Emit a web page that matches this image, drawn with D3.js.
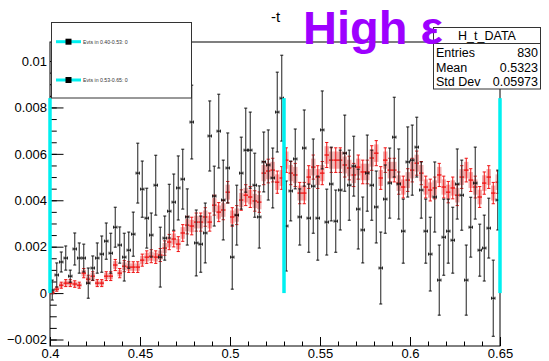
<!DOCTYPE html>
<html><head><meta charset="utf-8">
<script src="https://cdn.jsdelivr.net/npm/d3@7"></script>
<style>
html,body{margin:0;padding:0;background:#fff;}
svg{display:block;font-family:"Liberation Sans",Arial,Helvetica,sans-serif;}
</style>
</head><body>
<svg id="c" width="549" height="361"></svg>
<script>
// ---- data ----
const xRange = [0.4, 0.65];
const nBins = 100;
const dataVals = [
0.00013,0.00078,0.00134,0.00151,0.00073,0.0019,0.00151,0.00151,0.00043,0.00108,
0.00151,0.00168,0.00224,0.00172,0.00284,0.00207,0.00155,0.00185,0.00254,0.00517,
0.00448,0.00323,0.0025,0.00465,0.00155,0.00237,0.00353,0.00392,0.00453,0.00491,
0.00328,0.00737,0.00216,0.00211,0.00259,0.00677,0.00418,0.00698,0.00401,0.00539,
0.00155,0.00336,0.00517,0.00616,0.00616,0.00465,0.00328,0.00565,0.00552,0.00496,
0.0078,0.0084,0.00289,0.0044,0.00578,0.00328,0.00625,0.00323,0.00461,0.00323,
0.00703,0.00306,0.0047,0.0031,0.00444,0.00603,0.00465,0.00547,0.00362,0.00272,
0.00517,0.00465,0.00371,0.00108,0.00405,0.00474,0.00672,0.0047,0.00267,0.00565,
0.00573,0.00629,0.00444,0.00267,0.00168,0.00414,0.00056,0.00241,0.00267,0.00228,
0.0047,0.00422,0.00056,0.00284,0.00474,0.00185,0.00194,0.0028,-0.00022,0.00401];
const dataErr = [
0.00043,0.00052,0.00043,0.00052,0.00026,0.00069,0.00065,0.0006,0.00065,0.00052,
0.00065,0.00078,0.00078,0.00086,0.00086,0.00078,0.00103,0.00078,0.00095,0.00129,
0.00121,0.00129,0.00095,0.00129,0.00129,0.00095,0.00116,0.00121,0.00138,0.00129,
0.00121,0.00159,0.00142,0.00121,0.00129,0.00151,0.00129,0.00159,0.00172,0.00151,
0.00138,0.00129,0.00155,0.00181,0.00164,0.00138,0.00134,0.00129,0.00151,0.00129,
0.00172,0.00185,0.00194,0.00129,0.00129,0.00121,0.00164,0.00147,0.00203,0.00181,
0.00168,0.00142,0.00159,0.00134,0.00172,0.00164,0.00151,0.00129,0.00172,0.00142,
0.00164,0.00151,0.00155,0.00155,0.00147,0.00151,0.00172,0.00151,0.00138,0.00151,
0.00151,0.00129,0.00121,0.00138,0.00159,0.00151,0.00151,0.00164,0.00138,0.00142,
0.00151,0.00151,0.00151,0.00129,0.00155,0.00112,0.00142,0.00129,0.00164,0.00129];
const mcVals = [
0.00002,0.00017,0.00034,0.00043,0.00043,0.00039,0.00034,0.00086,0.0006,0.00073,
0.00043,0.00043,0.00073,0.00073,0.00121,0.00086,0.00116,0.00112,0.00112,0.00112,
0.00142,0.00155,0.00159,0.00155,0.00164,0.00194,0.0022,0.00233,0.00211,0.00259,
0.00293,0.00289,0.00306,0.00306,0.00328,0.00306,0.00379,0.00349,0.00358,0.00435,
0.00328,0.00336,0.00401,0.00422,0.00414,0.00397,0.00392,0.00517,0.00526,0.0053,
0.00478,0.00496,0.00573,0.00517,0.00509,0.00431,0.00431,0.005,0.00543,0.005,
0.00517,0.00595,0.00573,0.00573,0.00573,0.00552,0.00539,0.00509,0.00543,0.00522,
0.00522,0.00582,0.00603,0.00496,0.00573,0.0053,0.0053,0.00474,0.00457,0.00487,
0.0053,0.0056,0.00517,0.00457,0.00444,0.00453,0.00509,0.00457,0.00435,0.00453,
0.00422,0.005,0.0053,0.00487,0.00457,0.00414,0.00474,0.005,0.00431,0.00478];
const mcErr = [
0.00005,0.00009,0.00013,0.00015,0.00015,0.00014,0.00013,0.0002,0.00017,0.00019,
0.00015,0.00015,0.00019,0.00019,0.00024,0.0002,0.00024,0.00023,0.00023,0.00023,
0.00026,0.00027,0.00028,0.00027,0.00028,0.00031,0.00033,0.00034,0.00032,0.00036,
0.00038,0.00038,0.00039,0.00039,0.0004,0.00039,0.00043,0.00041,0.00042,0.00046,
0.0004,0.00041,0.00044,0.00045,0.00045,0.00044,0.00044,0.0005,0.00051,0.00051,
0.00048,0.00049,0.00053,0.0005,0.0005,0.00046,0.00046,0.00049,0.00052,0.00049,
0.0005,0.00054,0.00053,0.00053,0.00053,0.00052,0.00051,0.0005,0.00052,0.00051,
0.00051,0.00053,0.00054,0.00049,0.00053,0.00051,0.00051,0.00048,0.00047,0.00049,
0.00051,0.00052,0.0005,0.00047,0.00047,0.00047,0.0005,0.00047,0.00046,0.00047,
0.00045,0.00049,0.00051,0.00049,0.00047,0.00045,0.00048,0.00049,0.00046,0.00048];
const xTicks = [0.4, 0.45, 0.5, 0.55, 0.6, 0.65];
const xTickLabels = ["0.4", "0.45", "0.5", "0.55", "0.6", "0.65"];
const yTicks = [-0.002, 0, 0.002, 0.004, 0.006, 0.008, 0.01];
const yTickLabels = ["\u22120.002", "0", "0.002", "0.004", "0.006", "0.008", "0.01"];
const yRange = [-0.00228, 0.01082];
const cutLines = [0.4, 0.53, 0.65];
const cutTop = 0.0084;
const legendEntries = ["Evts in 0.40-0.53: 0", "Evts in 0.53-0.65: 0"];
const statsTitle = "H_t_DATA";
const statsRows = [["Entries", "830"], ["Mean", "0.5323"], ["Std Dev", "0.05973"]];
const histTitle = "-t";
const bigLabel = "High \u03b5";

// ---- layout ----
const L = 50, R = 500, T = 42, B = 346;
const svg = d3.select("#c");
const x = d3.scaleLinear().domain(xRange).range([L, R]);
const y = d3.scaleLinear().domain(yRange).range([B, T]);
const bw = (xRange[1] - xRange[0]) / nBins;
const bins = d3.range(nBins).map(i => ({i, lo: xRange[0] + i * bw, hi: xRange[0] + (i + 1) * bw}));

// frame
svg.append("rect").attr("x", L).attr("y", T).attr("width", R - L).attr("height", B - T)
  .attr("fill", "none").attr("stroke", "#000").attr("stroke-width", 1);

// axes
const fs = 13;
svg.append("g").attr("transform", `translate(${L},0)`)
  .call(d3.axisLeft(y).tickValues(yTicks).tickSize(-13.5).tickPadding(3)
    .tickFormat((d, i) => yTickLabels[i]));
svg.append("g").attr("transform", `translate(${L},0)`)
  .call(d3.axisLeft(y).tickValues(d3.range(-0.002, 0.0105, 0.0005)).tickSize(-6.75).tickFormat(""));
svg.append("g").attr("transform", `translate(0,${B})`)
  .call(d3.axisBottom(x).tickValues(xTicks).tickSize(-9).tickPadding(3)
    .tickFormat((d, i) => xTickLabels[i]));
svg.append("g").attr("transform", `translate(0,${B})`)
  .call(d3.axisBottom(x).tickValues(d3.range(0.4, 0.6501, 0.01)).tickSize(-4.5).tickFormat(""));
svg.selectAll(".domain").remove();
svg.selectAll(".tick line").attr("stroke", "#000");
svg.selectAll(".tick text").attr("font-size", fs).attr("font-family", "Liberation Sans, Arial, sans-serif").attr("fill", "#000");

// MC (red) with pink error boxes
const red = "#f01010";
const gMC = svg.append("g");
bins.forEach(b => {
  const v = mcVals[b.i], e = mcErr[b.i];
  const x0 = x(b.lo), x1 = x(b.hi), cx = (x0 + x1) / 2;
  gMC.append("rect").attr("x", x0).attr("width", x1 - x0)
    .attr("y", y(v + 0.7 * e)).attr("height", y(v - 0.7 * e) - y(v + 0.7 * e))
    .attr("fill", "#eea0a0").attr("opacity", 0.85);
  gMC.append("line").attr("x1", cx).attr("x2", cx).attr("y1", y(v + e)).attr("y2", y(v - e))
    .attr("stroke", red).attr("stroke-width", 1);
  [v + e, v - e].forEach(t => gMC.append("line").attr("x1", cx - 1.6).attr("x2", cx + 1.6)
    .attr("y1", y(t)).attr("y2", y(t)).attr("stroke", red).attr("stroke-width", 1));
  gMC.append("line").attr("x1", x0).attr("x2", x1).attr("y1", y(v)).attr("y2", y(v))
    .attr("stroke", red).attr("stroke-width", 1.3);
});

// data (black)
const gD = svg.append("g");
bins.forEach(b => {
  const v = dataVals[b.i], e = dataErr[b.i];
  const x0 = x(b.lo) + 0.5, x1 = x(b.hi) - 0.5, cx = (x(b.lo) + x(b.hi)) / 2;
  gD.append("line").attr("x1", cx).attr("x2", cx).attr("y1", y(v + e)).attr("y2", y(v - e))
    .attr("stroke", "#333").attr("stroke-width", 1.1);
  [v + e, v - e].forEach(t => gD.append("line").attr("x1", cx - 1.5).attr("x2", cx + 1.5)
    .attr("y1", y(t)).attr("y2", y(t)).attr("stroke", "#111").attr("stroke-width", 1));
  gD.append("line").attr("x1", x0).attr("x2", x1).attr("y1", y(v)).attr("y2", y(v))
    .attr("stroke", "#000").attr("stroke-width", 1);
  [x0, x1].forEach(xx => gD.append("line").attr("x1", xx).attr("x2", xx)
    .attr("y1", y(v) - 1.5).attr("y2", y(v) + 1.5).attr("stroke", "#000").attr("stroke-width", 0.8));
});

// cyan cut lines (on top of frame)
svg.append("g").selectAll("line").data(cutLines).join("line")
  .attr("x1", d => x(d)).attr("x2", d => x(d)).attr("y1", y(0)).attr("y2", y(cutTop))
  .attr("stroke", "#00f0f0").attr("stroke-width", 3.5);

// legend
const lg = svg.append("g");
lg.append("rect").attr("x", 51.5).attr("y", 22.5).attr("width", 140).attr("height", 75.5)
  .attr("fill", "#fff").attr("stroke", "#333").attr("stroke-width", 1);
legendEntries.forEach((t, k) => {
  const yy = [41.7, 80][k];
  lg.append("line").attr("x1", 56).attr("x2", 81).attr("y1", yy).attr("y2", yy)
    .attr("stroke", "#00f0f0").attr("stroke-width", 3);
  lg.append("rect").attr("x", 65.5).attr("y", yy - 3).attr("width", 6).attr("height", 6).attr("fill", "#000");
  lg.append("text").attr("x", 83).attr("y", yy + 1.8).attr("font-size", 5.2).attr("fill", "#333").text(t);
});

// stats box
const sb = svg.append("g");
sb.append("rect").attr("x", 433.5).attr("y", 27.5).attr("width", 107).attr("height", 61.5)
  .attr("fill", "#fff").attr("stroke", "#333").attr("stroke-width", 1);
sb.append("line").attr("x1", 433.5).attr("x2", 540.5).attr("y1", 43.5).attr("y2", 43.5).attr("stroke", "#333");
sb.append("text").attr("x", 487).attr("y", 39.5).attr("text-anchor", "middle").attr("font-size", 12.5).text(statsTitle);
statsRows.forEach((r, k) => {
  const yy = 57 + k * 14.5;
  sb.append("text").attr("x", 436).attr("y", yy).attr("font-size", 12.5).text(r[0]);
  sb.append("text").attr("x", 538).attr("y", yy).attr("text-anchor", "end").attr("font-size", 12.5).text(r[1]);
});

// titles
svg.append("text").attr("x", 275.5).attr("y", 22).attr("text-anchor", "middle").attr("font-size", 15).text(histTitle);
svg.append("text").attr("x", 303).attr("y", 44).attr("font-size", 47).attr("font-weight", "bold")
  .attr("fill", "#9d00ff").text(bigLabel);
</script>
</body></html>
